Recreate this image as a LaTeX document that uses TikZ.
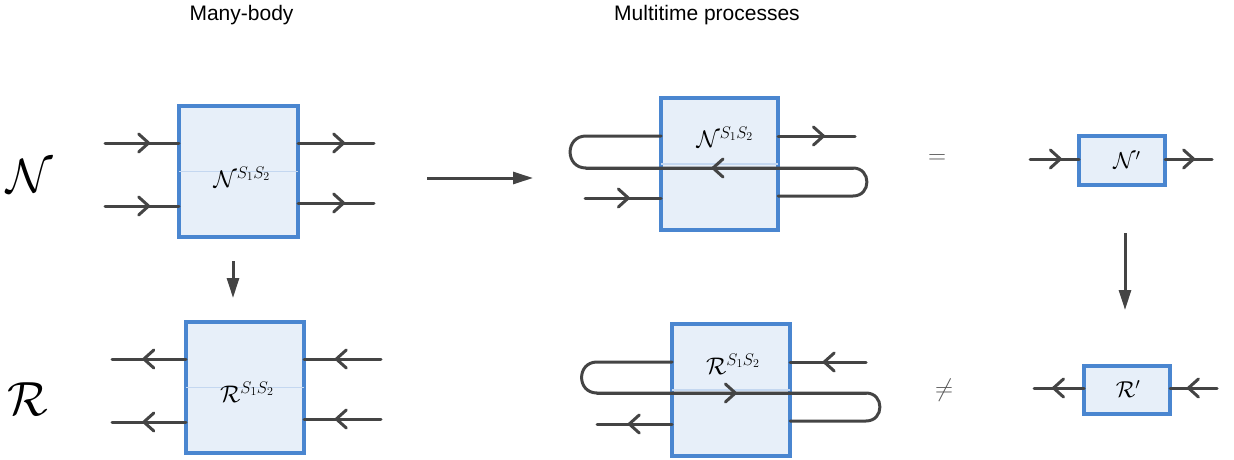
\documentclass[tikz,border=0pt]{standalone}
\usepackage{fix-cm}
\usepackage{fontspec}
\newfontfamily\headfont{Liberation Sans}
\usetikzlibrary{arrows.meta,decorations.markings}
\definecolor{wirec}{HTML}{444444}
\definecolor{boxc}{HTML}{4A86D0}
\definecolor{fillc}{HTML}{E7EFF9}
\definecolor{midc}{HTML}{C4D7F0}
\definecolor{relc}{HTML}{555555}
\begin{document}
\begin{tikzpicture}[x=1pt,y=-1pt,
  wire/.style={draw=wirec,line width=3pt,line cap=round,line join=round},
  qbox/.style={draw=boxc,fill=fillc,line width=3.1pt,inner sep=0pt,outer sep=0pt},
  midline/.style={draw=midc,line width=1.2pt},
  lab/.style={inner sep=0pt,font=\fontsize{24}{26}\selectfont},
  plab/.style={inner sep=0pt,font=\fontsize{23}{25}\selectfont},
  biglab/.style={inner sep=0pt,font=\fontsize{48}{50}\selectfont},
  rel/.style={inner sep=0pt,text=relc,font=\fontsize{25}{27}\selectfont},
  head/.style={inner sep=0pt,font=\headfont\fontsize{21}{23}\selectfont},
  bigarrow/.style={draw=wirec,line width=3pt,-{Triangle[length=20pt,width=12pt]}},
  mk/.style={postaction={decorate,decoration={markings,mark=at position #1 with {\arrow[wirec]{Straight Barb[length=10pt,width=18pt,round]}}}}}
]
\useasboundingbox (0,0) rectangle (1234,460);

% headings
\node[head] (hd1) at (241.5,15) {Many-body};
\node[head] (hd2) at (707,15) {Multitime processes};
\node[biglab] (bN) at (30,176) {$\mathcal{N}$};
\node[biglab] (bR) at (28,399) {$\mathcal{R}$};
\node[rel] (eq) at (937,159) {$=$};
\node[rel] (neq) at (944,390) {$\neq$};

% boxes
\node[qbox,minimum width=119pt,minimum height=131pt] (b1) at (238.5,171.5) {};
\node[qbox,minimum width=118pt,minimum height=131pt] (b2) at (245,387.5) {};
\node[qbox,minimum width=117pt,minimum height=132pt] (b3) at (719.5,164) {};
\node[qbox,minimum width=118pt,minimum height=132pt] (b4) at (731,390) {};
\node[qbox,minimum width=86pt,minimum height=49pt] (b5) at (1122,160.5) {};
\node[qbox,minimum width=86pt,minimum height=48pt] (b6) at (1127,390) {};
\foreach \b in {b1,b2,b3,b4} \draw[midline] (\b.west) -- (\b.east);

% labels
\node[lab] (l1) at (242,177) {$\mathcal{N}^{S_1S_2}$};
\node[lab] (l2) at (247,392) {$\mathcal{R}^{S_1S_2}$};
\node[lab] (l3) at (725,137) {$\mathcal{N}^{S_1S_2}$};
\node[lab] (l4) at (733,364) {$\mathcal{R}^{S_1S_2}$};
\node[plab] (l5) at (1127,160) {$\mathcal{N}'$};
\node[plab] (l6) at (1128,389) {$\mathcal{R}'$};

% box 1 wires
\coordinate (b1i1) at (105,143); \coordinate (b1i2) at (105,206);
\coordinate (b1o1) at (374,143); \coordinate (b1o2) at (374,203);
\draw[wire,mk=0.61] (b1i1) -- (b1i1 -| b1.west);
\draw[wire,mk=0.61] (b1i2) -- (b1i2 -| b1.west);
\draw[wire,mk=0.62] (b1o1 -| b1.east) -- (b1o1);
\draw[wire,mk=0.62] (b1o2 -| b1.east) -- (b1o2);

% box 2 wires
\coordinate (b2o1) at (112,359); \coordinate (b2o2) at (112,422);
\coordinate (b2i1) at (381,359); \coordinate (b2i2) at (381,419);
\draw[wire,mk=0.59] (b2o1 -| b2.west) -- (b2o1);
\draw[wire,mk=0.59] (b2o2 -| b2.west) -- (b2o2);
\draw[wire,mk=0.6] (b2i1) -- (b2i1 -| b2.east);
\draw[wire,mk=0.6] (b2i2) -- (b2i2 -| b2.east);

% box 3 wires
\coordinate (t3) at (855,136); \coordinate (in3) at (585,198);
\coordinate (ll3a) at (586,136); \coordinate (ll3b) at (586,168);
\coordinate (rl3a) at (853,168); \coordinate (rl3b) at (853,196);
\draw[wire] (b3.east |- rl3b) -- (rl3b) to[out=0,in=0,looseness=1.7] (rl3a) -- (ll3b)
  to[out=180,in=180,looseness=1.7] (ll3a) -- (b3.west |- ll3a);
\draw[wire,mk=0.53] (rl3a) -- (ll3b);
\draw[wire,mk=0.61] (b3.east |- t3) -- (t3);
\draw[wire,mk=0.59] (in3) -- (in3 -| b3.west);

% box 4 wires
\coordinate (t4) at (866,362); \coordinate (out4) at (597,424);
\coordinate (ll4a) at (597,362); \coordinate (ll4b) at (597,393);
\coordinate (rl4a) at (866,393); \coordinate (rl4b) at (866,421);
\draw[wire] (b4.west |- ll4a) -- (ll4a) to[out=180,in=180,looseness=1.7] (ll4b) -- (rl4a)
  to[out=0,in=0,looseness=1.7] (rl4b) -- (b4.east |- rl4b);
\draw[wire,mk=0.52] (ll4b) -- (rl4a);
\draw[wire,mk=0.57] (t4) -- (t4 -| b4.east);
\draw[wire,mk=0.59] (out4 -| b4.west) -- (out4);

% box 5 wires
\coordinate (b5i) at (1030,159); \coordinate (b5o) at (1212,159);
\draw[wire,mk=0.65] (b5i) -- (b5i -| b5.west);
\draw[wire,mk=0.64] (b5o -| b5.east) -- (b5o);

% box 6 wires
\coordinate (b6o) at (1034,388); \coordinate (b6i) at (1217,388);
\draw[wire,mk=0.64] (b6o -| b6.west) -- (b6o);
\draw[wire,mk=0.64] (b6i) -- (b6i -| b6.east);

% big arrows
\coordinate (h1) at (427,178); \coordinate (h2) at (533,178);
\draw[bigarrow] (h1) -- (h2);
\coordinate (d1a) at (233,261); \coordinate (d1b) at (233,298);
\draw[bigarrow] (d1a) -- (d1b);
\coordinate (d2a) at (1125,233); \coordinate (d2b) at (1125,310);
\draw[bigarrow] (d2a) -- (d2b);
\end{tikzpicture}
\end{document}
